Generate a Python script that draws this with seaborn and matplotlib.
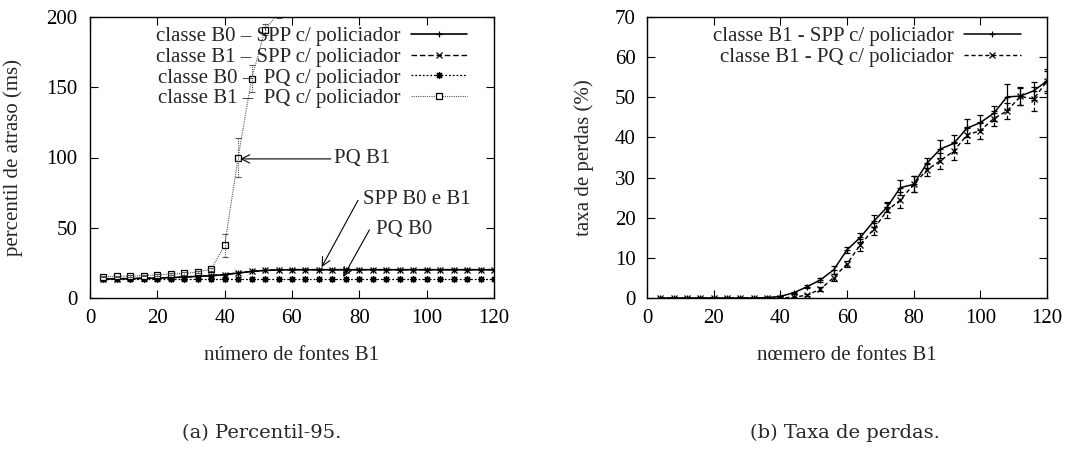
import numpy as np
import pandas as pd
import matplotlib
matplotlib.use("Agg")
import matplotlib.pyplot as plt
import seaborn as sns

# ---------------- data ----------------
x_src = [4, 8, 12, 16, 20, 24, 28, 32, 36, 40, 44, 48, 52, 56, 60, 64, 68, 72, 76, 80,
         84, 88, 92, 96, 100, 104, 108, 112, 116, 120]

# (a) percentil-95 do atraso (ms)
spp_b0 = [13.5, 13.6, 13.8, 14.0, 14.2, 14.5, 14.9, 15.4, 15.9, 16.6, 17.8, 18.9, 19.6, 20.0,
          20.1, 20.1, 20.1, 20.1, 20.1, 20.1, 20.1, 20.1, 20.1, 20.1, 20.1, 20.1, 20.1, 20.1, 20.1, 20.1]
spp_b1 = [13.6, 13.7, 13.9, 14.1, 14.3, 14.6, 15.0, 15.5, 16.0, 16.7, 17.9, 19.0, 19.7, 20.1,
          20.2, 20.2, 20.2, 20.2, 20.2, 20.2, 20.2, 20.2, 20.2, 20.2, 20.2, 20.2, 20.2, 20.2, 20.2, 20.2]
pq_b0 = [13.5, 13.5, 13.5, 13.5, 13.5, 13.5, 13.5, 13.5, 13.5, 13.5, 13.5, 13.5, 13.5, 13.5,
         13.5, 13.5, 13.5, 13.5, 13.5, 13.5, 13.5, 13.5, 13.5, 13.5, 13.5, 13.5, 13.5, 13.5, 13.5, 13.5]
x_pq_b1 = [4, 8, 12, 16, 20, 24, 28, 32, 36, 40, 44, 48, 52, 56]
pq_b1 = [15.2, 15.4, 15.6, 16.0, 16.5, 17.0, 17.5, 18.5, 20.5, 37.5, 100.0, 156.0, 191.0, 203.0]
pq_b1_err = [0.5, 0.5, 0.5, 0.6, 0.6, 0.7, 0.8, 1.0, 1.2, 8.0, 14.0, 9.5, 4.0, 4.0]

# (b) taxa de perdas (%)
spp_loss = [0, 0, 0, 0, 0, 0, 0, 0, 0.1, 0.4, 1.3, 2.8, 4.5, 7.0, 12.0, 15.1, 19.1, 22.6, 27.5, 28.3,
            33.6, 37.1, 38.5, 42.3, 43.7, 46.0, 50.1, 50.3, 51.6, 54.1]
spp_loss_err = [0, 0, 0, 0, 0, 0, 0, 0, 0.1, 0.2, 0.3, 0.4, 0.6, 0.9, 0.8, 1.2, 1.5, 1.2, 1.8, 2.0,
                1.3, 2.3, 2.2, 2.3, 1.8, 1.8, 3.2, 2.2, 2.2, 3.0]
pq_loss = [0, 0, 0, 0, 0, 0, 0, 0, 0, 0, 0.2, 0.7, 2.2, 5.1, 8.5, 13.3, 17.1, 21.8, 24.4, 28.3,
           31.9, 34.2, 36.6, 40.6, 41.7, 44.7, 46.6, 50.2, 49.6, 54.0]
pq_loss_err = [0, 0, 0, 0, 0, 0, 0, 0, 0, 0, 0.1, 0.3, 0.5, 0.8, 0.8, 1.5, 1.5, 1.8, 2.0, 2.0,
               1.5, 2.0, 2.2, 2.0, 2.2, 1.8, 2.0, 2.0, 3.0, 2.5]

xticks = [0, 20, 40, 60, 80, 100, 120]
yticks_a = [0, 50, 100, 150, 200]
yticks_b = [0, 10, 20, 30, 40, 50, 60, 70]

labels_a = ["classe B0 – SPP c/ policiador", "classe B1 – SPP c/ policiador",
            "classe B0 –  PQ c/ policiador", "classe B1 –  PQ c/ policiador"]
labels_b = ["classe B1 - SPP c/ policiador", "classe B1 - PQ c/ policiador"]

# ---------------- style ----------------
FS = 15
sns.set_theme(style="ticks")
plt.rcParams["font.family"] = ["Liberation Serif", "DejaVu Serif"]
plt.rcParams["font.size"] = FS
plt.rcParams["axes.linewidth"] = 1.0

fig = plt.figure(figsize=(10.86, 4.53), dpi=100)
axA = fig.add_axes([90 / 1086, 1 - 298 / 453, 404 / 1086, 281 / 453])
axB = fig.add_axes([647 / 1086, 1 - 298 / 453, 400 / 1086, 281 / 453])

def style_axes(ax):
    ax.tick_params(direction="in", length=6, width=0.8, top=True, right=True,
                   labelsize=FS, colors="black")
    for s in ax.spines.values():
        s.set_visible(True)
        s.set_color("black")
        s.set_linewidth(1.0)

mk = dict(markeredgecolor="black", markeredgewidth=0.9)

# ----- panel (a) -----
dfa = pd.DataFrame({"x": x_src, "spp_b0": spp_b0, "spp_b1": spp_b1, "pq_b0": pq_b0})
dfa_b1 = pd.DataFrame({"x": x_pq_b1, "pq_b1": pq_b1})

sns.lineplot(data=dfa, x="x", y="spp_b0", ax=axA, color="black", lw=1.2,
             marker="+", markersize=5, label=labels_a[0], **mk)
sns.lineplot(data=dfa, x="x", y="spp_b1", ax=axA, color="black", lw=1.0, dashes=(4, 2),
             marker="x", markersize=4, label=labels_a[1], **mk)
sns.lineplot(data=dfa, x="x", y="pq_b0", ax=axA, color="black", lw=0.9, dashes=(1.5, 1.5),
             marker=(8, 2, 0), markersize=5, label=labels_a[2], **mk)
sns.lineplot(data=dfa_b1, x="x", y="pq_b1", ax=axA, color="#555555", lw=0.8, dashes=(1, 1),
             marker="s", markersize=5, markerfacecolor="white", label=labels_a[3], **mk)
ax_err = axA.errorbar(x_pq_b1, pq_b1, yerr=pq_b1_err, fmt="none", ecolor="#555555",
                      elinewidth=0.8, capsize=2.5, capthick=0.8)
for c in ax_err[2]:
    c.set_linestyle((0, (1, 1)))

axA.set_xlim(0, 120)
axA.set_ylim(0, 200)
axA.set_xticks(xticks)
axA.set_yticks(yticks_a)
axA.set_xlabel("número de fontes B1", fontsize=FS)
axA.set_ylabel("percentil de atraso (ms)", fontsize=FS)
axA.xaxis.set_label_coords(0.5, -0.17)
axA.yaxis.set_label_coords(-0.166, 0.5)
style_axes(axA)
axA.tick_params(axis="x", pad=8)
axA.tick_params(axis="y", pad=9)

axA.legend(loc="upper right", bbox_to_anchor=(0.965, 1.01), frameon=False,
           markerfirst=False, handlelength=2.7, handletextpad=0.5,
           labelspacing=0.05, fontsize=FS, borderaxespad=0.2)

arrow = dict(arrowstyle="->", color="black", lw=0.8, shrinkA=0, shrinkB=0)
axA.annotate("PQ B1", xy=(44.6, 99), xytext=(72.5, 99), ha="left", va="center",
             fontsize=FS, arrowprops=arrow)
axA.annotate("", xy=(68.8, 22), xytext=(79.6, 69.5), arrowprops=arrow)
axA.text(81.0, 70, "SPP B0 e B1", ha="left", va="center", fontsize=FS)
axA.annotate("", xy=(75.2, 15), xytext=(83.0, 48.5), arrowprops=arrow)
axA.text(85.0, 49, "PQ B0", ha="left", va="center", fontsize=FS)

# ----- panel (b) -----
dfb = pd.DataFrame({"x": x_src, "spp": spp_loss, "pq": pq_loss})
sns.lineplot(data=dfb, x="x", y="spp", ax=axB, color="black", lw=1.1,
             marker="+", markersize=5, label=labels_b[0], **mk)
sns.lineplot(data=dfb, x="x", y="pq", ax=axB, color="black", lw=1.0, dashes=(3, 2),
             marker="x", markersize=5, label=labels_b[1], **mk)
e1 = axB.errorbar(x_src, spp_loss, yerr=spp_loss_err, fmt="none", ecolor="black",
                  elinewidth=0.9, capsize=2.5, capthick=0.9)
e2 = axB.errorbar(x_src, pq_loss, yerr=pq_loss_err, fmt="none", ecolor="black",
                  elinewidth=0.9, capsize=2.5, capthick=0.9)
for c in e2[2]:
    c.set_linestyle((0, (3, 2)))

axB.set_xlim(0, 120)
axB.set_ylim(0, 70)
axB.set_xticks(xticks)
axB.set_yticks(yticks_b)
axB.set_xlabel("nœmero de fontes B1", fontsize=FS)
axB.set_ylabel("taxa de perdas (%)", fontsize=FS)
axB.xaxis.set_label_coords(0.5, -0.17)
axB.yaxis.set_label_coords(-0.133, 0.5)
style_axes(axB)
axB.tick_params(axis="x", pad=8)
axB.tick_params(axis="y", pad=8)
axB.legend(loc="upper right", bbox_to_anchor=(0.965, 1.01), frameon=False,
           markerfirst=False, handlelength=2.7, handletextpad=0.5,
           labelspacing=0.05, fontsize=FS, borderaxespad=0.2)

# captions
fig.text(262 / 1086, 1 - 433 / 453, "(a) Percentil-95.", ha="center", va="center",
         fontsize=14, family=["DejaVu Serif"])
fig.text(845 / 1086, 1 - 433 / 453, "(b) Taxa de perdas.", ha="center", va="center",
         fontsize=14, family=["DejaVu Serif"])

fig.savefig("out.png", dpi=100, facecolor="white")
